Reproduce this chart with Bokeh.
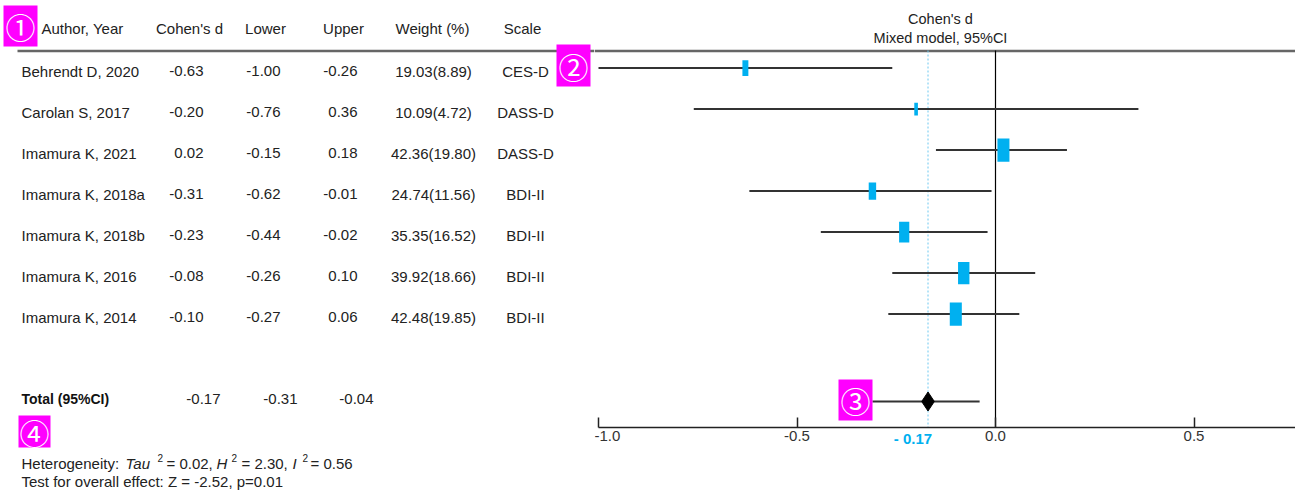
from bokeh.plotting import figure
from bokeh.layouts import row
from bokeh.models import Range1d, ColumnDataSource, LinearAxis, FixedTicker, NumeralTickFormatter
from bokeh.core.properties import value
from bokeh.embed import file_html
from bokeh.resources import INLINE

# ---------------- data ----------------
authors = ["Behrendt D, 2020", "Carolan S, 2017", "Imamura K, 2021", "Imamura K, 2018a",
           "Imamura K, 2018b", "Imamura K, 2016", "Imamura K, 2014"]
cohen_d = [-0.63, -0.20, 0.02, -0.31, -0.23, -0.08, -0.10]
lower = [-1.00, -0.76, -0.15, -0.62, -0.44, -0.26, -0.27]
upper = [-0.26, 0.36, 0.18, -0.01, -0.02, 0.10, 0.06]
weight = [19.03, 10.09, 42.36, 24.74, 35.35, 39.92, 42.48]
weight_pct = [8.89, 4.72, 19.80, 11.56, 16.52, 18.66, 19.85]
scales = ["CES-D", "DASS-D", "DASS-D", "BDI-II", "BDI-II", "BDI-II", "BDI-II"]
total_d, total_lower, total_upper = -0.17, -0.31, -0.04
tick_values = [-1.0, -0.5, 0.0, 0.5]

FONT = value("Liberation Sans")
FS = "15px"
TXT = "#222222"
BLUE = "#00b0f0"
MAG = "#ff00ff"

# ---------------- layout helpers (page pixels -> data units) ----------------
ROW0, STEP = 67.6, 41.0
def py2i(py):
    return (py - ROW0) / STEP
PX0, PXU = 995.0, 397.0
def px2d(px):
    return (px - PX0) / PXU
ident = lambda v: v

W, H = 1295, 492
SPLIT = 594
n = len(authors)
rows_i = list(range(n))
total_i = py2i(401)

def marker(fig, fx, x0, x1, y0, y1, s):
    fig.quad(left=[fx(x0)], right=[fx(x1)], top=[py2i(y0)], bottom=[py2i(y1)], fill_color=MAG, line_color=None)
    fig.text(x=[fx((x0 + x1) / 2)], y=[py2i((y0 + y1) / 2)], text=[s], text_font=value("Noto Sans CJK JP"),
             text_font_size="30px", text_color="white", text_align="center", text_baseline="middle")

# ---------------- left table ----------------
left = figure(frame_width=SPLIT, frame_height=H, x_range=Range1d(0, SPLIT),
              y_range=Range1d(py2i(H), py2i(0)), output_backend="svg",
              toolbar_location=None, min_border=0, outline_line_color=None,
              x_axis_location=None, y_axis_location=None)
left.grid.visible = False

left.segment(x0=[17], y0=[py2i(50.5)], x1=[SPLIT], y1=[py2i(50.5)], line_color="#666666", line_width=2.5)

hy = py2i(28)
left.text(x=[41], y=[hy], text=["Author, Year"], text_font=FONT, text_font_size=FS,
          text_baseline="middle", text_align="left", text_color=TXT)
heads = ["Cohen's d", "Lower", "Upper", "Weight (%)", "Scale"]
head_x = [189, 265, 343, 432, 522]
left.text(x=head_x, y=[hy] * 5, text=heads, text_font=FONT, text_font_size=FS,
          text_baseline="middle", text_align="center", text_color=TXT)

src = ColumnDataSource(dict(
    y=rows_i,
    author=authors,
    d=[f"{v:.2f}" for v in cohen_d],
    lo=[f"{v:.2f}" for v in lower],
    up=[f"{v:.2f}" for v in upper],
    w=[f"{a:.2f}({b:.2f})" for a, b in zip(weight, weight_pct)],
    sc=scales,
))
common = dict(text_font=FONT, text_font_size=FS, text_baseline="middle", text_color=TXT, y_offset=3)
left.text(x=21, y="y", text="author", source=src, text_align="left", **common)
left.text(x=203, y="y", text="d", source=src, text_align="right", **common)
left.text(x=280, y="y", text="lo", source=src, text_align="right", **common)
left.text(x=357, y="y", text="up", source=src, text_align="right", **common)
left.text(x=433, y="y", text="w", source=src, text_align="center", **common)
left.text(x=525, y="y", text="sc", source=src, text_align="center", **common)

# total row
left.text(x=[21], y=[total_i], text=["Total (95%CI)"], text_font=FONT, text_font_size="14px",
          text_font_style="bold", text_baseline="middle", text_align="left", text_color="#111111", y_offset=-3)
left.text(x=[220, 297, 373], y=[total_i] * 3,
          text=[f"{total_d:.2f}", f"{total_lower:.2f}", f"{total_upper:.2f}"],
          text_font=FONT, text_font_size=FS, text_baseline="middle", text_align="right",
          text_color=TXT, y_offset=-3)

# heterogeneity lines
het_y = py2i(463)
pieces = [("Heterogeneity: ", 21, "normal", FS, 0),
          ("Tau", 125, "italic", FS, 0),
          ("2", 157, "normal", "10px", -6),
          ("= 0.02,", 166, "normal", FS, 0),
          ("H", 216, "italic", FS, 0),
          ("2", 231, "normal", "10px", -6),
          ("= 2.30,", 241, "normal", FS, 0),
          ("I", 292, "italic", FS, 0),
          ("2", 302, "normal", "10px", -6),
          ("= 0.56", 310, "normal", FS, 0)]
for t, x, st, fs, yo in pieces:
    left.text(x=[x], y=[het_y], text=[t], text_font=FONT, text_font_size=fs, text_font_style=st,
              text_baseline="middle", text_align="left", text_color=TXT, y_offset=yo)
left.text(x=[21], y=[py2i(481)], text=["Test for overall effect: Z = -2.52, p=0.01"], text_font=FONT,
          text_font_size=FS, text_baseline="middle", text_align="left", text_color=TXT)

marker(left, ident, 3, 37, 5, 46, "①")
marker(left, ident, 18, 50, 415, 447, "④")
marker(left, ident, 556, 590, 44, 86, "②")

# ---------------- right forest plot ----------------
AXIS_PY = 427
FRAME_H = 455
right = figure(frame_width=W - SPLIT, frame_height=FRAME_H, x_range=Range1d(px2d(SPLIT), px2d(W)),
               y_range=Range1d(py2i(FRAME_H), py2i(0)), output_backend="svg",
               toolbar_location=None, min_border=0, min_border_bottom=H - FRAME_H,
               outline_line_color=None, x_axis_location=None, y_axis_location=None)
right.grid.visible = False

ax = LinearAxis(ticker=FixedTicker(ticks=tick_values), formatter=NumeralTickFormatter(format="0.0"),
                fixed_location=py2i(AXIS_PY),
                bounds=(-1.0, px2d(W)), major_tick_in=10, major_tick_out=0,
                minor_tick_line_color=None, axis_line_color="#222222", axis_line_width=1.5,
                major_tick_line_color="#222222", major_tick_line_width=1.5,
                major_label_standoff=3, major_label_text_font="Liberation Sans",
                major_label_text_font_size="15px", major_label_text_color="#333333")
right.add_layout(ax, "below")

right.segment(x0=[px2d(SPLIT)], y0=[py2i(50.5)], x1=[px2d(W)], y1=[py2i(50.5)],
              line_color="#666666", line_width=2.5)
right.text(x=[px2d(940)], y=[py2i(18)], text=["Cohen's d"], text_font=FONT, text_font_size="14.5px",
           text_align="center", text_baseline="middle", text_color=TXT)
right.text(x=[px2d(940)], y=[py2i(37)], text=["Mixed model, 95%CI"], text_font=FONT, text_font_size="14.5px",
           text_align="center", text_baseline="middle", text_color=TXT)

# reference lines
right.segment(x0=[0], y0=[py2i(50)], x1=[0], y1=[py2i(AXIS_PY)], line_color="black", line_width=1.2)
right.segment(x0=[total_d], y0=[py2i(50)], x1=[total_d], y1=[py2i(AXIS_PY)],
              line_color="#6cc8f0", line_width=1, line_dash="2 2")

fsrc = ColumnDataSource(dict(
    y=rows_i, d=cohen_d, lo=lower, up=upper,
    bw=[1 + 0.26 * w for w in weight],
    bh=[9.5 + 0.32 * w for w in weight],
))
right.segment(x0="lo", y0="y", x1="up", y1="y", source=fsrc, line_color="#333333", line_width=2)
right.rect(x="d", y="y", width="bw", height="bh", width_units="screen", height_units="screen",
           source=fsrc, fill_color=BLUE, line_color=None)

right.segment(x0=[total_lower], y0=[total_i], x1=[total_upper], y1=[total_i], line_color="#333333", line_width=2)
right.scatter(x=[total_d], y=[total_i], marker="diamond", size=19, fill_color="black", line_color="black")

# pooled-estimate label under the axis
right.text(x=[total_d], y=[py2i(437.6)], text=[f"- {abs(total_d):.2f}"], text_color=BLUE,
           text_font=FONT, text_font_style="bold", text_font_size="15px",
           text_align="center", text_baseline="middle", x_offset=-15)

marker(right, px2d, 838, 872, 379, 420, "③")

layout = row(left, right)
open("out.html", "w").write(file_html(layout, INLINE))
